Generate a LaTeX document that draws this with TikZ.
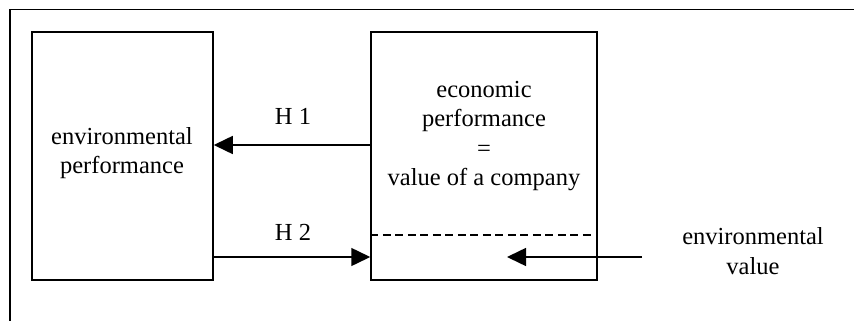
\documentclass[tikz,border=0pt]{standalone}
\usepackage{fontspec}
\setmainfont{Liberation Serif}
\usetikzlibrary{arrows.meta}
\begin{document}
\begin{tikzpicture}[x=1pt,y=-1pt,
  line width=1.5pt,
  box/.style={draw,minimum width=#1,minimum height=248pt,inner sep=0pt},
  lbl/.style={font=\fontsize{24.5}{29.5}\selectfont,align=center,inner sep=0pt},
  arr/.style={-{Triangle[length=19pt,width=18pt]}}]
\useasboundingbox (0,0) rectangle (854,321);
% outer frame (only top and left edges fall inside the page)
\draw (10,330) -- (10,9.5) -- (860,9.5);
% the two blocks
\node[box=181pt] (env) at (122.5,156) {};
\node[box=226pt] (eco) at (484,156) {};
\node[lbl] (envtxt) at (122,153) {environmental\\performance};
\node[lbl] (ecotxt) at (484,136) {economic\\performance\\=\\value of a company};
% hypotheses
\coordinate (h1s) at (eco.west |- 0,145);
\coordinate (h1e) at (env.east |- 0,145);
\draw[arr] (h1s) -- (h1e);
\node[lbl] (h1) at (293,116) {H 1};
\coordinate (h2s) at (env.east |- 0,257);
\coordinate (h2e) at (eco.west |- 0,257);
\draw[arr] (h2s) -- (h2e);
\node[lbl] (h2) at (293,232) {H 2};
% dashed separation inside the economic block
\coordinate (ds) at (eco.west |- 0,235);
\coordinate (de) at (593,235);
\draw[dash pattern=on 8pt off 4.5pt] (ds) -- (de);
% environmental value entering the block
\node[lbl] (evtxt) at (753,251) {environmental\\value};
\coordinate (evs) at (642,257);
\coordinate (eve) at (507,257);
\draw[arr] (evs) -- (eve);
\end{tikzpicture}
\end{document}
